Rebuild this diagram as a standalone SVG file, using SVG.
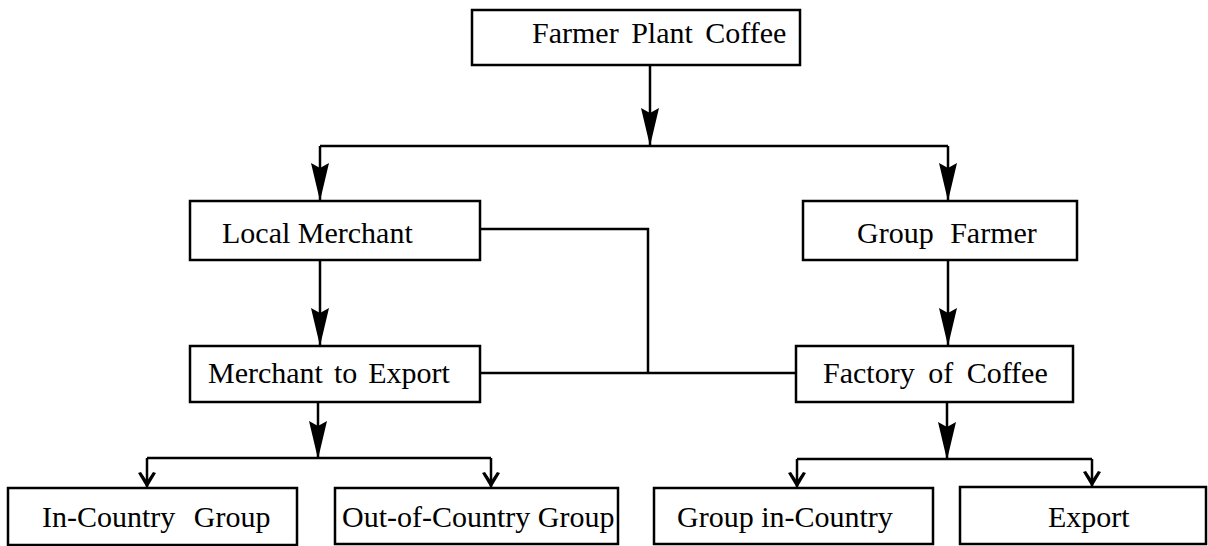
<svg xmlns="http://www.w3.org/2000/svg" width="1208" height="546" viewBox="0 0 1208 546">
  <style>
    .box { fill: #ffffff; stroke: #000000; stroke-width: 2.5; }
    .lbl { font-family: "Liberation Serif", "Times New Roman", serif; font-size: 30px; fill: #000000; }
    .wire { fill: none; stroke: #000000; stroke-width: 2.5; }
    .head { fill: #000000; stroke: none; }
  </style>
  <defs>
    <!-- long narrow filled arrowhead, tip at origin pointing down -->
    <path id="bigHead" d="M0,0 L-9,-38 L0,-33 L9,-38 Z"/>
    <!-- short barbed arrowhead, tip at origin pointing down -->
    <path id="smallHead" d="M0,0 L-9,-15 L-6,-16 L0,-7 L6,-16 L9,-15 Z"/>
  </defs>
  <rect width="1208" height="546" fill="#ffffff"/>

  <g id="connectors">
    <!-- Farmer Plant Coffee split -->
    <path class="wire" d="M650,65 V146"/>
    <path class="wire" d="M320,146 H948"/>
    <path class="wire" d="M320,146 V200"/>
    <path class="wire" d="M948,146 V200"/>
    <use href="#bigHead" class="head" x="650" y="146"/>
    <use href="#bigHead" class="head" x="320" y="201"/>
    <use href="#bigHead" class="head" x="948" y="201"/>

    <!-- Local Merchant -> Merchant to Export -->
    <path class="wire" d="M320,260 V345"/>
    <use href="#bigHead" class="head" x="320" y="346"/>
    <!-- Group Farmer -> Factory of Coffee -->
    <path class="wire" d="M948,260 V345"/>
    <use href="#bigHead" class="head" x="948" y="346"/>

    <!-- cross link between the two branches -->
    <path class="wire" d="M480,229 H648 V373"/>
    <path class="wire" d="M480,373 H796"/>

    <!-- Merchant to Export split -->
    <path class="wire" d="M318,402 V458"/>
    <use href="#bigHead" class="head" x="318" y="459"/>
    <path class="wire" d="M147,458 H491"/>
    <path class="wire" d="M147,458 V487"/>
    <path class="wire" d="M491,458 V487"/>
    <use href="#smallHead" class="head" x="147" y="488"/>
    <use href="#smallHead" class="head" x="491" y="488"/>

    <!-- Factory of Coffee split -->
    <path class="wire" d="M947,402 V459"/>
    <use href="#bigHead" class="head" x="947" y="460"/>
    <path class="wire" d="M797,459 H1092"/>
    <path class="wire" d="M797,459 V487"/>
    <path class="wire" d="M1092,459 V486"/>
    <use href="#smallHead" class="head" x="797" y="488"/>
    <use href="#smallHead" class="head" x="1092" y="487"/>
  </g>

  <g id="farmer-plant-coffee">
    <rect class="box" x="472" y="10" width="328" height="55"/>
    <text class="lbl" x="532" y="43" word-spacing="5">Farmer Plant Coffee</text>
  </g>
  <g id="local-merchant">
    <rect class="box" x="190" y="201" width="290" height="59"/>
    <text class="lbl" x="222" y="243">Local Merchant</text>
  </g>
  <g id="group-farmer">
    <rect class="box" x="803" y="201" width="274" height="59"/>
    <text class="lbl" x="857" y="243" word-spacing="9">Group Farmer</text>
  </g>
  <g id="merchant-to-export">
    <rect class="box" x="190" y="346" width="290" height="56"/>
    <text class="lbl" x="208" y="383" word-spacing="3.5">Merchant to Export</text>
  </g>
  <g id="factory-of-coffee">
    <rect class="box" x="796" y="346" width="277" height="56"/>
    <text class="lbl" x="823" y="383" word-spacing="6">Factory of Coffee</text>
  </g>
  <g id="in-country-group">
    <rect class="box" x="8" y="488" width="289" height="57"/>
    <text class="lbl" x="42" y="527" word-spacing="11">In-Country Group</text>
  </g>
  <g id="out-of-country-group">
    <rect class="box" x="335" y="488" width="283" height="56"/>
    <text class="lbl" x="342" y="527">Out-of-Country Group</text>
  </g>
  <g id="group-in-country">
    <rect class="box" x="654" y="488" width="279" height="56"/>
    <text class="lbl" x="677" y="527">Group in-Country</text>
  </g>
  <g id="export">
    <rect class="box" x="960" y="487" width="246" height="57"/>
    <text class="lbl" x="1048" y="527">Export</text>
  </g>
</svg>
